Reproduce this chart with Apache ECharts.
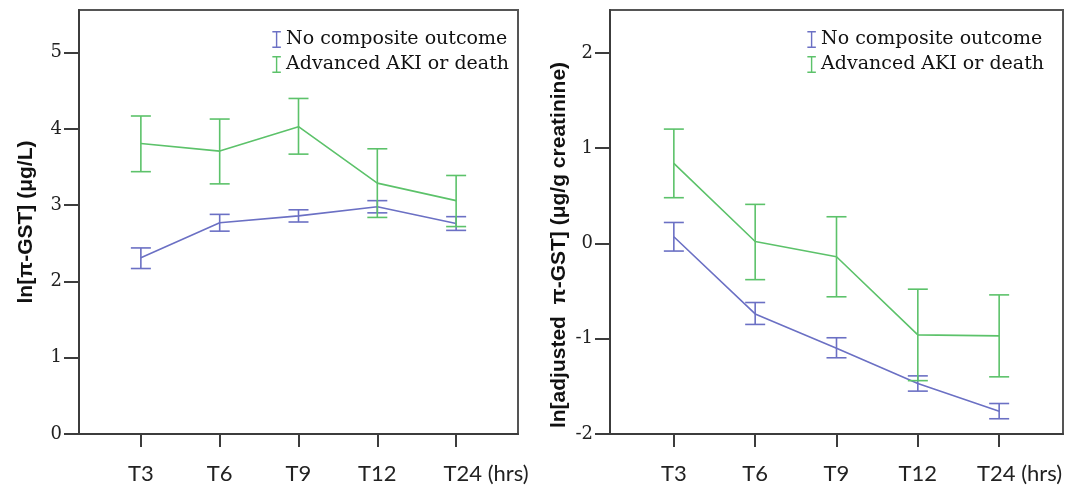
<!DOCTYPE html>
<html><head><meta charset="utf-8">
<script src="https://cdn.jsdelivr.net/npm/echarts@6/dist/echarts.min.js"></script>
<style>html,body{margin:0;padding:0;background:#fff}#c{width:1071px;height:487px}</style>
</head><body><div id="c"></div>
<script>
const categories = ['T3', 'T6', 'T9', 'T12', 'T24'];
const seriesNames = ['No composite outcome', 'Advanced AKI or death'];
// Left panel: ln[π-GST] (μg/L)
const leftNoMean  = [2.31, 2.77, 2.86, 2.98, 2.76];
const leftNoLow   = [2.17, 2.66, 2.78, 2.90, 2.67];
const leftNoHigh  = [2.44, 2.88, 2.94, 3.06, 2.85];
const leftAkiMean = [3.81, 3.71, 4.03, 3.29, 3.06];
const leftAkiLow  = [3.44, 3.28, 3.67, 2.84, 2.72];
const leftAkiHigh = [4.17, 4.13, 4.40, 3.74, 3.39];
// Right panel: ln[adjusted π-GST] (μg/g creatinine)
const rightNoMean  = [0.07, -0.74, -1.10, -1.47, -1.76];
const rightNoLow   = [-0.08, -0.85, -1.20, -1.55, -1.84];
const rightNoHigh  = [0.22, -0.62, -0.99, -1.39, -1.68];
const rightAkiMean = [0.84, 0.02, -0.14, -0.96, -0.97];
const rightAkiLow  = [0.48, -0.38, -0.56, -1.44, -1.40];
const rightAkiHigh = [1.20, 0.41, 0.28, -0.48, -0.54];
const leftYTicks = [0, 1, 2, 3, 4, 5];
const rightYTicks = [-2, -1, 0, 1, 2];
const leftTitle = 'ln[π-GST] (μg/L)';
const rightTitle = 'ln[adjusted  π-GST] (μg/g creatinine)';
const lastLabelSuffix = ' (hrs)';

const BLUE = '#6b70c4', GREEN = '#5cc26a', AX = '#3c3c3c';
const catIdx = categories.map((c, i) => i);
const pts = arr => arr.map((v, i) => [i, v]);
const bars = (lo, hi) => lo.map((v, i) => [i, v, hi[i]]);

function errRender(params, api) {
  const x = api.value(0), lo = api.value(1), hi = api.value(2);
  const a = api.coord([x, lo]), b = api.coord([x, hi]);
  const hw = 10;
  const style = { stroke: api.visual('color'), lineWidth: 1.6, fill: null };
  return { type: 'group', children: [
    { type: 'line', shape: { x1: a[0], y1: a[1], x2: b[0], y2: b[1] }, style },
    { type: 'line', shape: { x1: a[0] - hw, y1: a[1], x2: a[0] + hw, y2: a[1] }, style },
    { type: 'line', shape: { x1: b[0] - hw, y1: b[1], x2: b[0] + hw, y2: b[1] }, style }
  ]};
}

function xAxisCfg(gridIndex, spacer) {
  return {
    type: 'value', gridIndex, min: -0.785, max: 4.785,
    splitLine: { show: false },
    axisLine: { show: true, onZero: false, lineStyle: { color: AX, width: 2 } },
    axisTick: { show: true, length: 13, customValues: catIdx, lineStyle: { color: AX, width: 2 } },
    axisLabel: {
      customValues: catIdx, margin: 29,
      fontFamily: 'Lato', fontSize: 22, color: '#222',
      formatter: v => {
        const i = Math.round(v);
        if (i === categories.length - 1) return '{s| }{t|' + categories[i] + lastLabelSuffix + '}';
        return '{t|' + categories[i] + '}';
      },
      rich: {
        s: { width: spacer, fontFamily: 'Lato', fontSize: 22 },
        t: { fontFamily: 'Lato', fontSize: 22, color: '#222' }
      }
    }
  };
}

function yAxisCfg(gridIndex, min, max, ticks, title, gap, pad) {
  return {
    type: 'value', gridIndex, min, max,
    splitLine: { show: false },
    axisLine: { show: true, onZero: false, lineStyle: { color: AX, width: 2 } },
    axisTick: { show: true, length: 15, customValues: ticks, lineStyle: { color: AX, width: 2 } },
    axisLabel: { customValues: ticks, margin: 17, fontFamily: 'DejaVu Serif', fontSize: 18, color: '#222' },
    name: title, nameLocation: 'middle', nameRotate: 90, nameGap: gap,
    nameTextStyle: { fontFamily: 'Liberation Sans', fontWeight: 'bold', fontSize: 21, color: '#111', padding: pad }
  };
}

const legendIcon = 'path://M0,0H12V2H7V22H12V24H0V22H5V2H0Z';
function legendCfg(right) {
  return {
    orient: 'vertical', right, top: 25, itemGap: 6, itemWidth: 9, itemHeight: 17,
    textStyle: { fontFamily: 'DejaVu Serif', fontSize: 19, color: '#111' },
    data: [{ name: seriesNames[0], icon: legendIcon, itemStyle: { color: BLUE } },
           { name: seriesNames[1], icon: legendIcon, itemStyle: { color: GREEN } }]
  };
}

function lineS(name, data, color, idx) {
  return { type: 'line', name, data, xAxisIndex: idx, yAxisIndex: idx, symbol: 'none',
           lineStyle: { color, width: 1.6 }, itemStyle: { color }, z: 3 };
}
function errS(name, data, color, idx) {
  return { type: 'custom', name, data, xAxisIndex: idx, yAxisIndex: idx,
           encode: { x: 0, y: [1, 2] }, renderItem: errRender, itemStyle: { color }, z: 4 };
}

const chart = echarts.init(document.getElementById('c'), null, { renderer: 'canvas' });
chart.setOption({
  animation: false,
  backgroundColor: '#fff',
  grid: [
    { left: 79, right: 553, top: 10, bottom: 53, show: true, borderColor: '#555', borderWidth: 2 },
    { left: 610, right: 8, top: 10, bottom: 53, show: true, borderColor: '#555', borderWidth: 2 }
  ],
  legend: [legendCfg(557), legendCfg(22)],
  xAxis: [xAxisCfg(0, 60), xAxisCfg(1, 41)],
  yAxis: [
    yAxisCfg(0, 0, 5.56, leftYTicks, leftTitle, 42, [0, 0, 0, 0]),
    yAxisCfg(1, -2, 2.45, rightYTicks, rightTitle, 40, [0, 46, 0, 0])
  ],
  series: [
    lineS(seriesNames[0], pts(leftNoMean), BLUE, 0),
    lineS(seriesNames[1], pts(leftAkiMean), GREEN, 0),
    errS(seriesNames[0], bars(leftNoLow, leftNoHigh), BLUE, 0),
    errS(seriesNames[1], bars(leftAkiLow, leftAkiHigh), GREEN, 0),
    lineS(seriesNames[0], pts(rightNoMean), BLUE, 1),
    lineS(seriesNames[1], pts(rightAkiMean), GREEN, 1),
    errS(seriesNames[0], bars(rightNoLow, rightNoHigh), BLUE, 1),
    errS(seriesNames[1], bars(rightAkiLow, rightAkiHigh), GREEN, 1)
  ]
});
</script></body></html>
